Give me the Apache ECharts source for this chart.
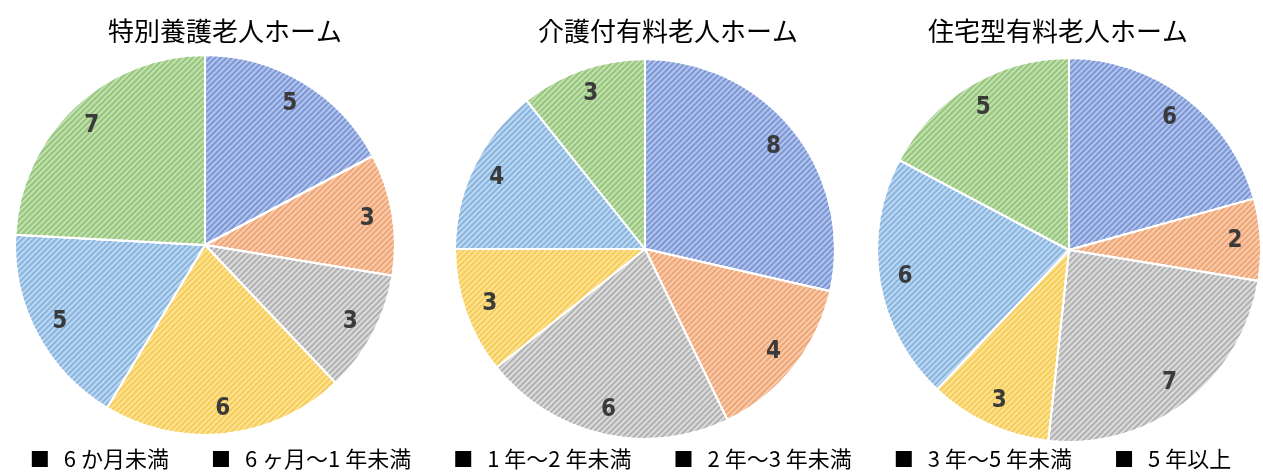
<!DOCTYPE html>
<html>
<head>
<meta charset="utf-8">
<script src="https://cdn.jsdelivr.net/npm/echarts@6/dist/echarts.min.js"></script>
<style>
html,body{margin:0;padding:0;background:#fff;}
#c{width:1263px;height:476px;}
</style>
</head>
<body>
<div id="c"></div>
<script>
var categories = ['6 か月未満', '6 ヶ月～1 年未満', '1 年～2 年未満', '2 年～3 年未満', '3 年～5 年未満', '5 年以上'];
var chartTitles = ['特別養護老人ホーム', '介護付有料老人ホーム', '住宅型有料老人ホーム'];
var tokuyouValues = [5, 3, 3, 6, 5, 7];
var kaigoValues = [8, 4, 6, 3, 4, 3];
var juutakuValues = [6, 2, 7, 3, 6, 5];

var baseColors = ['#b3c4ea', '#f8cbab', '#dcdcdc', '#ffe394', '#bdd8f0', '#c3e0b0'];
var stripeColors = ['rgba(70,105,195,0.5)', 'rgba(230,120,55,0.45)', 'rgba(125,125,125,0.45)', 'rgba(230,175,15,0.45)', 'rgba(70,135,205,0.45)', 'rgba(95,165,60,0.45)'];

var allValues = [tokuyouValues, kaigoValues, juutakuValues];
var centers = [[205, 245], [645, 249], [1069, 250]];
var radii = [190, 190, 192];
var titleX = [220, 663, 1053];

function makeData(vals, withStyle) {
  return vals.map(function (v, i) {
    var d = { name: categories[i], value: v };
    if (withStyle) {
      d.itemStyle = {
        color: baseColors[i],
        decal: {
          symbol: 'rect',
          symbolSize: 1,
          dashArrayX: [1, 0],
          dashArrayY: [1.5, 1.5],
          rotation: -Math.PI / 4,
          color: stripeColors[i]
        }
      };
    }
    return d;
  });
}

var series = [];
allValues.forEach(function (vals, k) {
  series.push({
    type: 'pie',
    center: centers[k],
    radius: [0, radii[k]],
    startAngle: 90,
    clockwise: true,
    silent: true,
    label: { show: false },
    labelLine: { show: false },
    itemStyle: { borderColor: '#fff', borderWidth: 2 },
    data: makeData(vals, true)
  });
  series.push({
    type: 'pie',
    center: centers[k],
    radius: [radii[k] * 0.7, radii[k]],
    startAngle: 90,
    clockwise: true,
    silent: true,
    itemStyle: { color: 'rgba(0,0,0,0)' },
    label: {
      show: true,
      position: 'inside',
      formatter: '{c}',
      fontFamily: "'Liberation Sans Narrow', 'DejaVu Sans Condensed', 'Roboto Condensed', Roboto, sans-serif",
      fontWeight: 'bold',
      fontSize: 24,
      color: '#3a3a3a'
    },
    labelLine: { show: false },
    data: makeData(vals, false)
  });
});

var option = {
  backgroundColor: '#fff',
  animation: false,
  aria: { enabled: false, decal: { show: true } },
  title: chartTitles.map(function (t, k) {
    return {
      text: t,
      left: titleX[k],
      top: 13,
      textAlign: 'center',
      textStyle: { fontFamily: 'Noto Sans CJK JP', fontWeight: 'normal', fontSize: 26, color: '#000' }
    };
  }),
  legend: {
    data: categories,
    left: 'center',
    top: 443,
    icon: 'rect',
    itemWidth: 16,
    itemHeight: 16,
    itemGap: 44,
    formatter: function (name) { return '\u2002' + name; },
    itemStyle: { color: '#000', decal: 'none', borderWidth: 0 },
    textStyle: { fontFamily: 'Noto Sans CJK JP', fontSize: 22, color: '#000' }
  },
  series: series
};

var chart = echarts.init(document.getElementById('c'));
chart.setOption(option);
</script>
</body>
</html>
